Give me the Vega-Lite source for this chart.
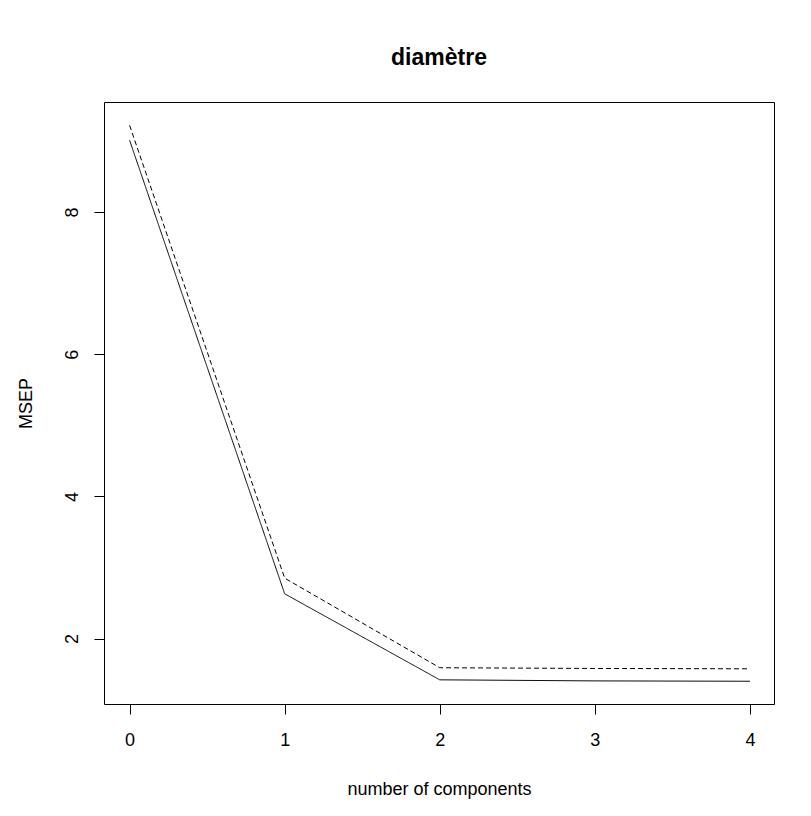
{
  "$schema": "https://vega.github.io/schema/vega-lite/v6.json",
  "width": 670,
  "height": 602,
  "autosize": {"type": "none"},
  "padding": {"left": 104, "top": 102, "right": 37, "bottom": 112},
  "background": "white",
  "title": {
    "text": "diamètre",
    "font": "Liberation Sans",
    "fontSize": 23,
    "fontWeight": "bold",
    "color": "black",
    "anchor": "middle",
    "offset": 32
  },
  "data": {
    "values": [
      {"ncomp": 0, "series": "adjCV", "msep": 9.01},
      {"ncomp": 1, "series": "adjCV", "msep": 2.63},
      {"ncomp": 2, "series": "adjCV", "msep": 1.42},
      {"ncomp": 3, "series": "adjCV", "msep": 1.405},
      {"ncomp": 4, "series": "adjCV", "msep": 1.4},
      {"ncomp": 0, "series": "CV", "msep": 9.22},
      {"ncomp": 1, "series": "CV", "msep": 2.85},
      {"ncomp": 2, "series": "CV", "msep": 1.59},
      {"ncomp": 3, "series": "CV", "msep": 1.58},
      {"ncomp": 4, "series": "CV", "msep": 1.575}
    ]
  },
  "mark": {"type": "line", "color": "black", "strokeWidth": 1},
  "encoding": {
    "x": {
      "field": "ncomp",
      "type": "quantitative",
      "title": "number of components",
      "scale": {"domain": [-0.165, 4.155], "nice": false, "zero": false},
      "axis": {"values": [0, 1, 2, 3, 4], "labelPadding": 17, "titlePadding": 31}
    },
    "y": {
      "field": "msep",
      "type": "quantitative",
      "title": "MSEP",
      "scale": {"domain": [1.08, 9.548], "nice": false, "zero": false},
      "axis": {
        "values": [2, 4, 6, 8],
        "labelAngle": -90,
        "labelAlign": "center",
        "labelBaseline": "bottom",
        "labelPadding": 13,
        "titlePadding": 28
      }
    },
    "strokeDash": {
      "field": "series",
      "type": "nominal",
      "scale": {"domain": ["adjCV", "CV"], "range": [[1, 0], [5, 3]]},
      "legend": null
    }
  },
  "config": {
    "view": {"stroke": "black", "strokeWidth": 1},
    "axis": {
      "domain": false,
      "grid": false,
      "ticks": true,
      "tickSize": 10,
      "tickColor": "black",
      "labelFont": "Liberation Sans",
      "labelFontSize": 18,
      "labelColor": "black",
      "titleFont": "Liberation Sans",
      "titleFontSize": 18,
      "titleFontWeight": "normal",
      "titleColor": "black"
    }
  }
}
